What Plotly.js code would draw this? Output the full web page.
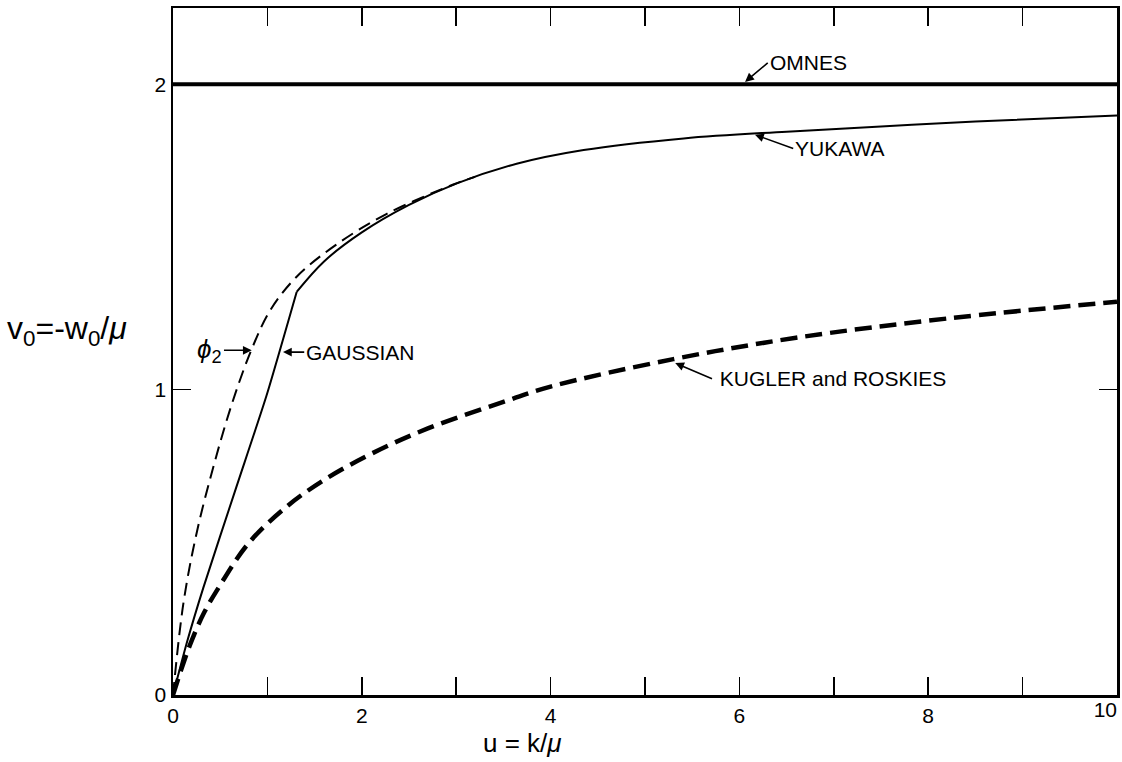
<!DOCTYPE html>
<html>
<head>
<meta charset="utf-8">
<script src="https://cdn.plot.ly/plotly-3.0.1.min.js"></script>
<style>html,body{margin:0;padding:0;background:#fff;}#chart{width:1122px;height:762px;}</style>
</head>
<body>
<div id="chart"></div>
<script>
// ---- data ----
const omnesX = [0, 10];
const omnesY = [2.0, 2.0];

const yukawaX = [1.31, 1.6, 2.0, 2.5, 3.0, 3.64, 4.35, 5.41, 6.5, 7.5, 8.5, 10];
const yukawaY = [1.32, 1.42, 1.515, 1.605, 1.675, 1.74, 1.785, 1.823, 1.845, 1.862, 1.878, 1.898];

const gaussX = [0, 0.15, 0.32, 0.67, 0.99, 1.31];
const gaussY = [0, 0.175, 0.35, 0.68, 0.98, 1.32];

const phi2X = [0, 0.11, 0.25, 0.43, 0.62, 0.83, 1.03, 1.31, 1.73, 2.26, 2.97, 3.2];
const phi2Y = [0, 0.30, 0.53, 0.75, 0.95, 1.13, 1.26, 1.37, 1.475, 1.575, 1.672, 1.697];

const kuglerX = [0, 0.1, 0.2, 0.33, 0.5, 0.8, 1.2, 1.6, 2.1, 2.7, 3.5, 4.0, 5.3, 6.6, 8.2, 10];
const kuglerY = [0, 0.095, 0.18, 0.27, 0.36, 0.497, 0.616, 0.704, 0.79, 0.873, 0.96, 1.01, 1.10, 1.17, 1.233, 1.288];

const xTickVals = [0,1,2,3,4,5,6,7,8,9,10];
const xTickText = ["0","","2","","4","","6","","8","",""];
const xEndTickVals = [10];
const xEndTickText = ["10"];
const yTickVals = [0,1,2];
const yTickText = ["0","1","2"];

const labelOmnes = "OMNES";
const labelYukawa = "YUKAWA";
const labelGauss = "GAUSSIAN";
const labelPhi = "<i>ϕ</i><sub>2</sub>";
const labelKugler = "&nbsp;KUGLER and ROSKIES";
const xTitle = "u = k/<i>μ</i>";
const yTitle = "v<sub>0</sub>=-w<sub>0</sub>/<i>μ</i>";

const FONT = "Liberation Sans, Arial, Helvetica, sans-serif";

const traces = [
  {x: omnesX, y: omnesY, mode: "lines", line: {color: "#000", width: 4}, name: labelOmnes},
  {x: yukawaX, y: yukawaY, mode: "lines", line: {color: "#000", width: 2, shape: "spline", smoothing: 1}, name: labelYukawa},
  {x: gaussX, y: gaussY, mode: "lines", line: {color: "#000", width: 2, shape: "spline", smoothing: 0.6}, name: labelGauss},
  {x: phi2X, y: phi2Y, mode: "lines", line: {color: "#000", width: 2, dash: "13px,7px", shape: "spline", smoothing: 1}, name: "phi2"},
  {x: kuglerX, y: kuglerY, mode: "lines", line: {color: "#000", width: 4.5, dash: "17px,8px", shape: "spline", smoothing: 1}, name: labelKugler},
  // invisible copy that only anchors the secondary x axis carrying the "10" label
  {x: omnesX, y: omnesY, xaxis: "x2", mode: "lines", line: {color: "rgba(0,0,0,0)", width: 0}, hoverinfo: "skip", showlegend: false}
];

const arrowCommon = {showarrow: true, arrowhead: 2, arrowsize: 1.1, arrowwidth: 1.6, arrowcolor: "#000",
  axref: "x", ayref: "y", xref: "x", yref: "y", font: {family: FONT, size: 21, color: "#000"}, yanchor: "middle"};

const layout = {
  width: 1122, height: 762,
  margin: {l: 173, r: 5, t: 8, b: 67, pad: 0},
  paper_bgcolor: "#fff", plot_bgcolor: "#fff",
  showlegend: false,
  font: {family: FONT, size: 19, color: "#000"},
  xaxis: {
    range: [0, 10], tickvals: xTickVals, ticktext: xTickText,
    ticks: "inside", ticklen: 18, tickwidth: 1.5, tickcolor: "#000",
    showline: true, linewidth: 2.5, linecolor: "#000", mirror: "ticks",
    showgrid: false, zeroline: false, tickfont: {family: FONT, size: 21}
  },
  xaxis2: {
    overlaying: "x", anchor: "y", side: "bottom",
    range: [0, 10], tickvals: xEndTickVals, ticktext: xEndTickText,
    ticks: "", showline: false, showgrid: false, zeroline: false,
    ticklabelposition: "outside left", ticklabeloverflow: "allow",
    tickfont: {family: FONT, size: 21}
  },
  yaxis: {
    range: [0, 2.25], tickvals: yTickVals, ticktext: yTickText,
    ticks: "inside", ticklen: 18, tickwidth: 1.5, tickcolor: "#000",
    showline: true, linewidth: 2.5, linecolor: "#000", mirror: "ticks",
    showgrid: false, zeroline: false, tickfont: {family: FONT, size: 21}
  },
  annotations: [
    Object.assign({}, arrowCommon, {text: labelOmnes, x: 6.06, y: 2.008, ax: 6.30, ay: 2.07, xanchor: "left"}),
    Object.assign({}, arrowCommon, {text: labelYukawa, x: 6.165, y: 1.835, ax: 6.57, ay: 1.79, xanchor: "left"}),
    Object.assign({}, arrowCommon, {text: labelKugler, x: 5.32, y: 1.087, ax: 5.71, ay: 1.036, xanchor: "left"}),
    Object.assign({}, arrowCommon, {text: labelGauss, x: 1.165, y: 1.123, ax: 1.39, ay: 1.123, xanchor: "left"}),
    Object.assign({}, arrowCommon, {text: labelPhi, x: 0.834, y: 1.129, ax: 0.54, ay: 1.129, xanchor: "right", font: {family: FONT, size: 26, color: "#000"}}),
    {text: yTitle, xref: "paper", yref: "y", x: -0.178, y: 1.195, xanchor: "left", yanchor: "middle", showarrow: false,
      font: {family: FONT, size: 32, color: "#000"}},
    {text: xTitle, xref: "x", yref: "paper", x: 3.7, y: -0.045, xanchor: "center", yanchor: "top", showarrow: false,
      font: {family: FONT, size: 26, color: "#000"}}
  ]
};

Plotly.newPlot("chart", traces, layout, {displayModeBar: false, staticPlot: true});
</script>
</body>
</html>
